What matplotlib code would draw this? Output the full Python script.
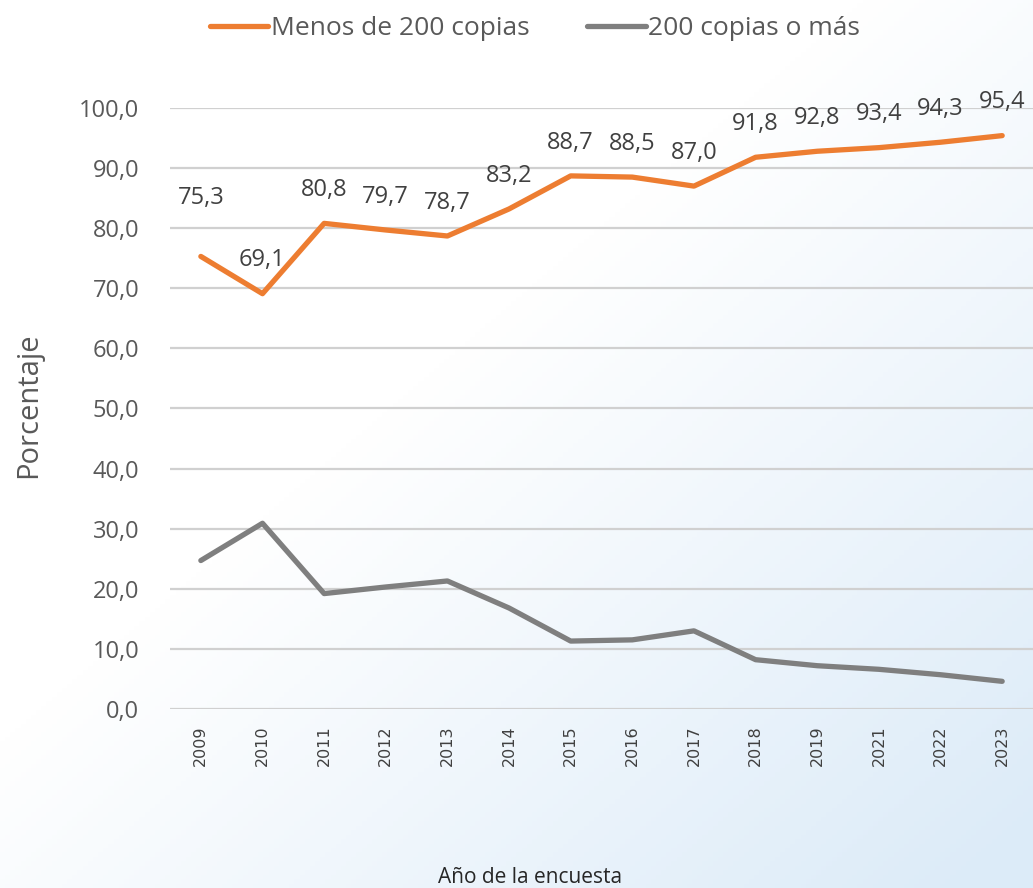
import numpy as np
import matplotlib
matplotlib.use("Agg")
from matplotlib import pyplot as plt
from matplotlib.colors import LinearSegmentedColormap

years = ["2009", "2010", "2011", "2012", "2013", "2014", "2015", "2016",
         "2017", "2018", "2019", "2021", "2022", "2023"]
menos_200 = [75.3, 69.1, 80.8, 79.7, 78.7, 83.2, 88.7, 88.5, 87.0, 91.8,
             92.8, 93.4, 94.3, 95.4]
mas_200 = [24.7, 30.9, 19.2, 20.3, 21.3, 16.8, 11.3, 11.5, 13.0, 8.2,
           7.2, 6.6, 5.7, 4.6]
yticks = [0, 10, 20, 30, 40, 50, 60, 70, 80, 90, 100]

orange = "#ED7D31"
gray = "#7F7F7F"
txt = "#595959"

plt.rcParams['font.family'] = ['Open Sans', 'DejaVu Sans']

fig = plt.figure(figsize=(10.33, 8.88), dpi=100)

# faint bluish background, stronger toward the lower right
bg = fig.add_axes([0, 0, 1, 1], zorder=-10)
gx, gy = np.meshgrid(np.linspace(0, 1, 200), np.linspace(0, 1, 200))
g = np.clip(0.9 * gx + 0.9 * gy - 0.75, 0, 1)
cmap = LinearSegmentedColormap.from_list("bg", ["#ffffff", "#dcebf8"])
bg.imshow(g, cmap=cmap, aspect="auto", extent=[0, 1, 0, 1], origin="upper",
          vmin=0, vmax=1)
bg.axis("off")

ax = fig.add_axes([0.1646, 0.2016, 0.8354, 0.6768])
ax.set_facecolor("none")
x = np.arange(len(years))

ax.plot(x, menos_200, color=orange, lw=3.8, solid_capstyle="round",
        label="Menos de 200 copias", zorder=3)
ax.plot(x, mas_200, color=gray, lw=3.8, solid_capstyle="round",
        label="200 copias o más", zorder=3)

for i, v in enumerate(menos_200):
    off = 42 if i == 0 else 24
    ax.annotate(f"{v:.1f}".replace(".", ","), (x[i], v),
                xytext=(0, off), textcoords="offset points",
                ha="center", va="center", fontsize=17, color="#404040")

ax.set_xlim(-0.5, len(years) - 0.5)
ax.set_ylim(0, 100)
ax.set_yticks(yticks)
ax.set_yticklabels([f"{t:.1f}".replace(".", ",") for t in yticks],
                   fontsize=17, color=txt)
ax.set_xticks(x)
ax.set_xticklabels(years, rotation=90, fontsize=11.5, color="#404040",
                   family="DejaVu Sans")
ax.tick_params(length=0, pad=12)
ax.tick_params(axis="y", pad=22)
ax.grid(axis="y", color="#d0d0d0", lw=1.6)
ax.set_axisbelow(True)
for s in ax.spines.values():
    s.set_visible(False)

fig.text(0.028, 0.544, "Porcentaje", rotation=90, ha="center", va="center",
         fontsize=21, color=txt)
fig.text(0.513, 0.012, "Año de la encuesta", ha="center", va="center",
         fontsize=15, color="#262626")

fig.legend(loc="center", bbox_to_anchor=(0.518, 0.968), ncol=2, frameon=False,
           fontsize=19, handlelength=2.2, handletextpad=0.1,
           columnspacing=2.2, labelcolor=txt)

fig.savefig("out.png", dpi=100)
